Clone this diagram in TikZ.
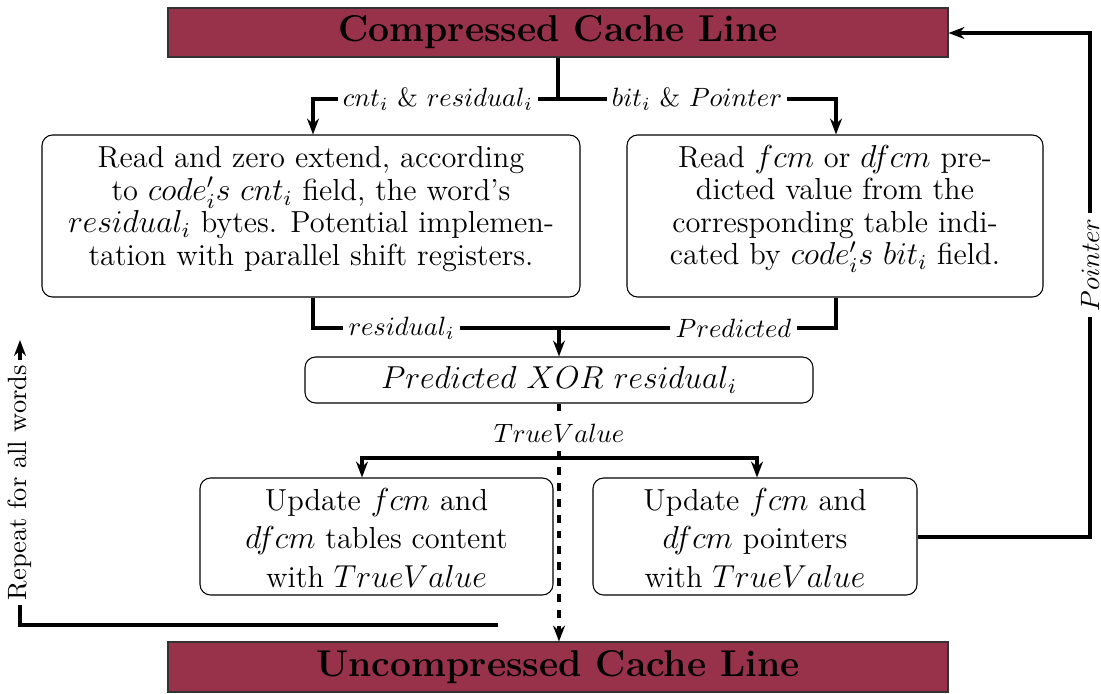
\documentclass[tikz,border=0pt]{standalone}
\usetikzlibrary{arrows.meta}
\definecolor{cachered}{RGB}{152,50,74}
\begin{document}
\begin{tikzpicture}[x=0.378pt,y=-0.378pt,
  bar/.style={draw=black!80,fill=cachered,minimum width={780*0.378pt},minimum height={49*0.378pt},inner sep=0pt,font=\fontsize{14.1pt}{17pt}\selectfont\bfseries},
  stepbox/.style={draw,rounded corners=4pt,inner sep=0pt},
  steptext/.style={align=center,inner sep=0pt,font=\fontsize{11.5pt}{12.25pt}\selectfont},
  widetext/.style={align=center,inner sep=0pt,font=\fontsize{11.5pt}{14.5pt}\selectfont},
  link/.style={line width=1.2pt},
  tip/.style={-{Stealth[length=6pt,width=4.5pt]}},
  lbl/.style={fill=white,inner sep=2pt}]
\useasboundingbox (0,0) rectangle (1101,693);

% cache lines
\node[bar] (cl) at (558,32.5) {Compressed Cache Line};
\node[bar,minimum height={50*0.378pt}] (ul) at (558,667) {Uncompressed Cache Line};

% processing steps: frames
\node[stepbox,minimum width={538*0.378pt},minimum height={162*0.378pt}] (rd) at (311,216) {};
\node[stepbox,minimum width={416*0.378pt},minimum height={162*0.378pt}] (pr) at (835,216) {};
\node[stepbox,minimum width={508*0.378pt},minimum height={46*0.378pt},font=\large] (xr) at (559,380)
  {$Predicted\ XOR\ residual_i$};
\node[stepbox,minimum width={353*0.378pt},minimum height={117*0.378pt}] (ut) at (376.5,536.5) {};
\node[stepbox,minimum width={324*0.378pt},minimum height={117*0.378pt}] (up) at (755,536.5) {};

% processing steps: descriptions
\node[steptext] (rdt) at (311,209)
  {Read and zero extend, according\\
   to $code'_is$ $cnt_i$ field, the word's\\
   $residual_i$ bytes. Potential implemen-\\
   tation with parallel shift registers.};
\node[steptext] (prt) at (835,209)
  {Read $fcm$ or $dfcm$ pre-\\
   dicted value from the\\
   corresponding table indi-\\
   cated by $code'_is$ $bit_i$ field.};
\node[widetext] (utt) at (376.5,538)
  {Update $fcm$ and\\ $dfcm$ tables content\\ with $TrueValue$};
\node[widetext] (upt) at (755,538)
  {Update $fcm$ and\\ $dfcm$ pointers\\ with $TrueValue$};

% junction and bend points
\coordinate (j1) at (558,99);
\coordinate (a1) at (313,99);
\coordinate (a2) at (836,99);
\coordinate (j2) at (559,328);
\coordinate (b1) at (313,328);
\coordinate (b2) at (836,328);
\coordinate (j3) at (559,458);
\coordinate (c1) at (362,458);
\coordinate (c2) at (757,458);
\coordinate (p1) at (1090,537);
\coordinate (p2) at (1090,33);
\coordinate (rl) at (498,625);
\coordinate (r1) at (20,625);
\coordinate (r2) at (20,340);

% split of the compressed line
\draw[link] (cl.south -| j1) -- (j1);
\draw[link,tip] (j1) -- node[lbl,pos=0.49]{$cnt_i$ \& $residual_i$} (a1) -- (rd.north -| a1);
\draw[link,tip] (j1) -- node[lbl,pos=0.5]{$bit_i$ \& $Pointer$} (a2) -- (pr.north -| a2);

% merge into the XOR step
\draw[link] (rd.south -| b1) -- (b1) -- node[lbl,pos=0.36]{$residual_i$} (j2);
\draw[link] (pr.south -| b2) -- (b2) -- node[lbl,pos=0.37]{$Predicted$} (j2);
\draw[link,tip] (j2) -- (xr.north -| j2);

% true value out to the uncompressed line
\draw[link,dashed,tip] (xr.south -| j2) -- (ul.north -| j2);
\node[lbl] (tv) at (559,433) {$TrueValue$};

% table updates
\draw[link,tip] (j3) -- (c1) -- (ut.north -| c1);
\draw[link,tip] (j3) -- (c2) -- (up.north -| c2);

% pointer feedback
\draw[link,tip] (up.east |- p1) -- (p1) -- node[lbl,pos=0.54,rotate=90]{$Pointer$} (p2) -- (cl.east |- p2);

% loop over all words
\draw[link,tip] (rl) -- (r1) -- node[lbl,pos=0.5,rotate=90]{Repeat for all words} (r2);
\end{tikzpicture}
\end{document}
